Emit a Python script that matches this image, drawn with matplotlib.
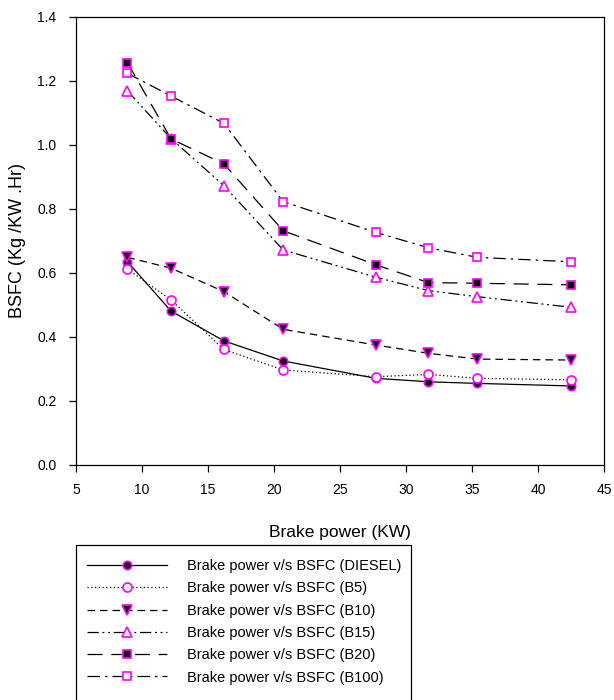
import numpy as np
import matplotlib
matplotlib.use('Agg')
import matplotlib.pyplot as plt
from matplotlib.patches import Rectangle

plt.rcParams['font.family'] = ['Liberation Sans', 'DejaVu Sans']

# brake power (KW)
power = [8.9, 12.2, 16.2, 20.7, 27.7, 31.7, 35.4, 42.5]

# BSFC (Kg/KW.Hr)
diesel = [0.635, 0.481, 0.388, 0.325, 0.271, 0.260, 0.255, 0.247]
b5 = [0.612, 0.516, 0.361, 0.297, 0.276, 0.283, 0.271, 0.266]
b10 = [0.649, 0.615, 0.542, 0.424, 0.375, 0.349, 0.331, 0.328]
b15 = [1.169, 1.020, 0.873, 0.672, 0.587, 0.545, 0.526, 0.493]
b20 = [1.257, 1.019, 0.941, 0.732, 0.626, 0.570, 0.568, 0.563]
b100 = [1.224, 1.153, 1.068, 0.823, 0.727, 0.679, 0.649, 0.635]

labels = ['Brake power v/s BSFC (DIESEL)', 'Brake power v/s BSFC (B5)',
          'Brake power v/s BSFC (B10)', 'Brake power v/s BSFC (B15)',
          'Brake power v/s BSFC (B20)', 'Brake power v/s BSFC (B100)']

mag = '#ff00ff'
styles = [
    dict(ls='-', marker='o', mfc='black', ms=6),
    dict(ls=(0, (1, 2)), marker='o', mfc='white', ms=6.5),
    dict(ls=(0, (6, 4)), marker='v', mfc='black', ms=7),
    dict(ls=(0, (9, 3, 1.5, 3, 1.5, 3)), marker='^', mfc='white', ms=7),
    dict(ls=(0, (12, 7)), marker='s', mfc='black', ms=6),
    dict(ls=(0, (10, 4, 2, 4)), marker='s', mfc='white', ms=6),
]

fig = plt.figure(figsize=(6.14, 7.0), dpi=100)
ax = fig.add_axes([76/614, 1 - 465/700, (604-76)/614, (465-17)/700])

series = [diesel, b5, b10, b15, b20, b100]
handles = []
for y, st, lab in zip(series, styles, labels):
    h, = ax.plot(power, y, color='black', lw=0.9, mec=mag, mew=1.2,
                 label=lab, **st)
    handles.append(h)

ax.set_xlim(5, 45)
ax.set_ylim(0, 1.4)
ax.set_xticks(np.arange(5, 46, 5))
ax.set_yticks(np.arange(0, 1.41, 0.2))
ax.yaxis.set_major_formatter(matplotlib.ticker.FormatStrFormatter('%.1f'))
ax.tick_params(axis='both', direction='out', length=5, width=0.9, labelsize=10)
ax.tick_params(axis='y', pad=9)
ax.tick_params(axis='x', pad=8)
for s in ax.spines.values():
    s.set_linewidth(0.9)

ax.set_xlabel('Brake power (KW)', fontsize=12.5, labelpad=20)
ax.set_ylabel('BSFC (Kg /KW .Hr)', fontsize=13, labelpad=8)

# legend box (runs off the bottom of the figure)
fig.patches.append(Rectangle((76/614, -0.05), (411-76)/614, 0.05 + 1 - 545/700,
                             transform=fig.transFigure, fill=False,
                             edgecolor='black', lw=0.9, clip_on=False))
fig.legend(handles=handles, loc='upper left', bbox_to_anchor=(87/614, 1 - 559/700),
           frameon=False, fontsize=10.5, handlelength=5.5, handletextpad=1.37,
           borderpad=0, borderaxespad=0, labelspacing=0.57)

fig.savefig('out.png', dpi=100)
